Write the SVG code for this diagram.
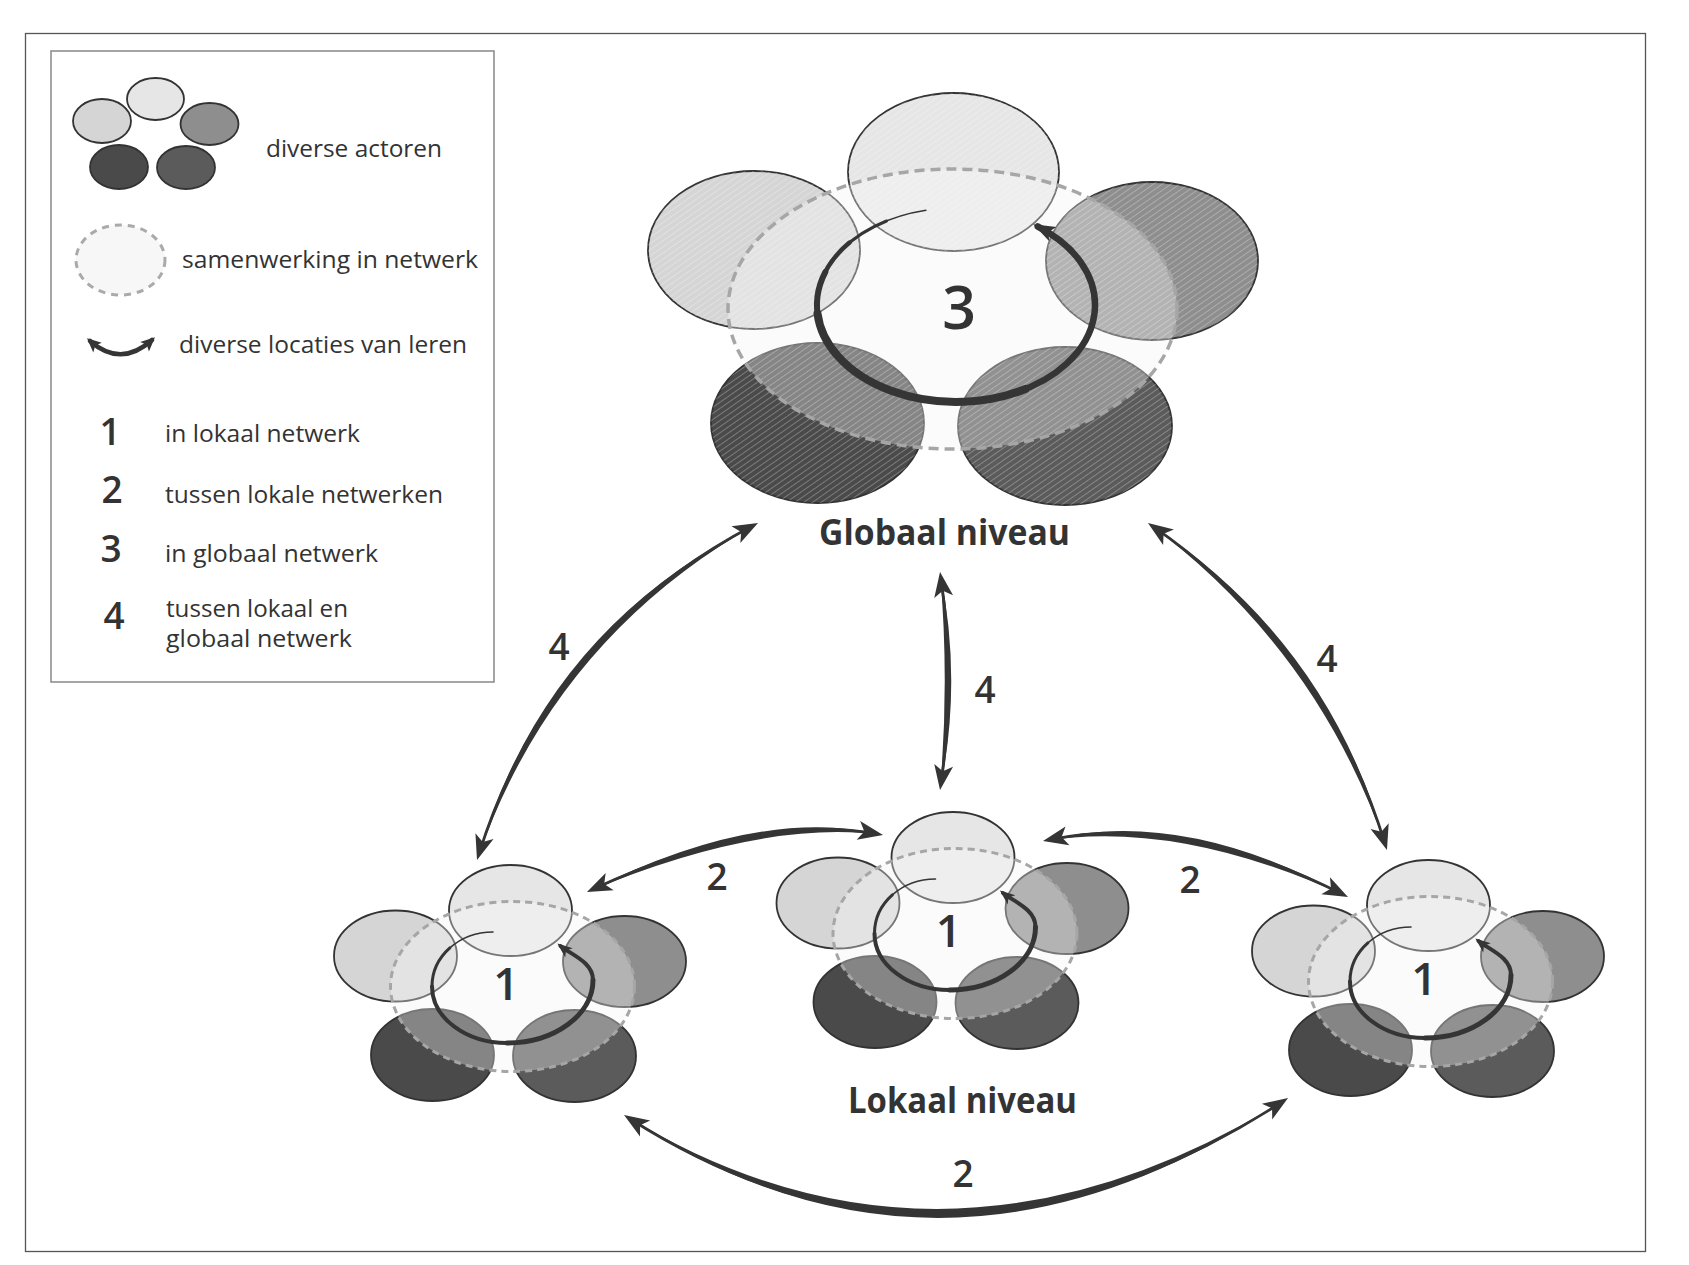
<svg xmlns="http://www.w3.org/2000/svg" width="1689" height="1265" viewBox="0 0 1689 1265">
<style>
.t{font-family:"Open Sans","Noto Sans","Liberation Sans",sans-serif;fill:#333}
.lg{font-size:24px}
.dg{font-size:37px;font-weight:600;text-anchor:middle}
.ttl{font-size:35px;font-weight:700}
.ol{stroke:#333;stroke-width:1.8}
.ln{fill:none;stroke:#353535;stroke-linecap:round}
.cn{fill:none;stroke:#353535;stroke-width:2.8;stroke-linecap:butt}
.tp{fill:#353535;stroke:none}
.dsG{fill:#fff;fill-opacity:0.33;stroke:#a6a6a6;stroke-width:3.5;stroke-dasharray:10 6}
.dsL{fill:#fff;fill-opacity:0.33;stroke:#a6a6a6;stroke-width:3;stroke-dasharray:7 5}
.c1{fill:#e6e6e6}.c2{fill:#d5d5d5}.c3{fill:#8e8e8e}.c4{fill:#4a4a4a}.c5{fill:#5b5b5b}
.h{fill:url(#hatch);opacity:0.35}
</style>
<defs>
<pattern id="hatch" width="5" height="5" patternUnits="userSpaceOnUse" patternTransform="rotate(-35)"><line x1="0" y1="2.5" x2="5" y2="2.5" stroke="#fff" stroke-width="0.8"/></pattern>
<marker id="ah" markerUnits="userSpaceOnUse" viewBox="-22 -11 30 22" markerWidth="30" markerHeight="22" refX="0" refY="0" orient="auto-start-reverse" overflow="visible"><path d="M6,0 L-19,-9.5 L-13,0 L-19,9.5 Z" fill="#353535"/></marker>
<marker id="ahG" markerUnits="userSpaceOnUse" viewBox="-20 -10 26 20" markerWidth="26" markerHeight="20" refX="0" refY="0" orient="auto" overflow="visible"><path d="M5,0 L-17,-8 L-12,0 L-17,8 Z" fill="#353535"/></marker>
<marker id="ahL" markerUnits="userSpaceOnUse" viewBox="-14 -8 20 16" markerWidth="20" markerHeight="16" refX="0" refY="0" orient="auto" overflow="visible"><path d="M4,0 L-11,-6 L-7,0 L-11,6 Z" fill="#353535"/></marker>
<marker id="ahS" markerUnits="userSpaceOnUse" viewBox="-12 -8 18 16" markerWidth="18" markerHeight="16" refX="0" refY="0" orient="auto-start-reverse" overflow="visible"><path d="M4,0 L-10,-6.5 L-7,0 L-10,6.5 Z" fill="#353535"/></marker>
</defs>
<rect width="1689" height="1265" fill="#fff"/>
<rect id="frame" x="25.5" y="33.5" width="1620" height="1218" fill="none" stroke="#555" stroke-width="1.3"/>

<g id="legend">
<rect x="51" y="51" width="443" height="631" fill="#fff" stroke="#888" stroke-width="1.5"/>
<g id="legend-actors">
<ellipse class="c2 ol" cx="102" cy="121" rx="29" ry="22" stroke-width="1.3"/>
<ellipse class="c1 ol" cx="155.5" cy="99" rx="28.5" ry="21" stroke-width="1.3"/>
<ellipse class="c3 ol" cx="209.5" cy="124" rx="29" ry="21" stroke-width="1.3"/>
<ellipse class="c4 ol" cx="119" cy="167" rx="29" ry="22" stroke-width="1.3"/>
<ellipse class="c5 ol" cx="186" cy="167.5" rx="29" ry="21.5" stroke-width="1.3"/>
</g>
<ellipse cx="120.5" cy="260" rx="44.5" ry="35" fill="#f7f7f7" stroke="#aaa" stroke-width="3" stroke-dasharray="7 6"/>
<path d="M90,341 Q121,368 152,340" class="ln" stroke-width="4.5" stroke-linecap="butt" marker-start="url(#ahS)" marker-end="url(#ahS)"/>
<text class="t lg" x="266" y="157" textLength="176" lengthAdjust="spacingAndGlyphs">diverse actoren</text>
<text class="t lg" x="182" y="268" textLength="296" lengthAdjust="spacingAndGlyphs">samenwerking in netwerk</text>
<text class="t lg" x="179" y="353" textLength="288" lengthAdjust="spacingAndGlyphs">diverse locaties van leren</text>
<text class="t dg" x="110" y="445">1</text>
<text class="t dg" x="112" y="503">2</text>
<text class="t dg" x="111" y="562">3</text>
<text class="t dg" x="114" y="629">4</text>
<text class="t lg" x="165" y="442" textLength="195" lengthAdjust="spacingAndGlyphs">in lokaal netwerk</text>
<text class="t lg" x="165" y="503" textLength="278" lengthAdjust="spacingAndGlyphs">tussen lokale netwerken</text>
<text class="t lg" x="165" y="562" textLength="213" lengthAdjust="spacingAndGlyphs">in globaal netwerk</text>
<text class="t lg" x="166" y="617" textLength="182" lengthAdjust="spacingAndGlyphs">tussen lokaal en</text>
<text class="t lg" x="166" y="647" textLength="186" lengthAdjust="spacingAndGlyphs">globaal netwerk</text>
</g>

<g id="global-network">
<ellipse cx="952.5" cy="309" rx="224.5" ry="140" fill="#f9f9f9"/>
<ellipse class="c2 ol" cx="754" cy="250" rx="106" ry="79"/>
<ellipse class="c3 ol" cx="1152" cy="261" rx="106" ry="79"/>
<ellipse class="c4 ol" cx="817.5" cy="423" rx="106.5" ry="80"/>
<ellipse class="c5 ol" cx="1065" cy="426" rx="107" ry="79"/>
<ellipse class="c1 ol" cx="953.5" cy="172" rx="105.5" ry="79"/>
<g class="h">
<ellipse cx="754" cy="250" rx="106" ry="79"/>
<ellipse cx="1152" cy="261" rx="106" ry="79"/>
<ellipse cx="817.5" cy="423" rx="106.5" ry="80"/>
<ellipse cx="1065" cy="426" rx="107" ry="79"/>
<ellipse cx="953.5" cy="172" rx="105.5" ry="79"/>
</g>
<ellipse class="dsG" cx="952.5" cy="309" rx="224.5" ry="140"/>
<g id="loop-3">
<path class="ln" stroke-width="1.5" d="M925.9,210.3 A139,97 0 0 0 876.3,225.5"/>
<path class="ln" stroke-width="3" d="M886.5,221 A139,97 0 0 0 842.1,249.4"/>
<path class="ln" stroke-width="4.5" d="M849.5,242.6 A139,97 0 0 0 821.7,279.9"/>
<path class="ln" stroke-width="6" d="M825.4,271.8 A139,97 0 0 0 819.1,321.8"/>
<path class="ln" stroke-width="8" d="M817.5,313.5 A139,97 0 0 0 1025.5,389"/>
<path class="ln" stroke-width="6.5" stroke-linecap="butt" d="M1014.7,392.9 A139,97 0 0 0 1037.7,226.5" marker-end="url(#ahG)"/>
</g>
<text class="t" x="959" y="329" font-size="59" font-weight="600" text-anchor="middle">3</text>
<text class="t ttl" x="819" y="545" textLength="251" lengthAdjust="spacingAndGlyphs">Globaal niveau</text>
</g>

<g id="local-network-left" transform="translate(512.5,986.5)">
<ellipse rx="122" ry="85" fill="#f9f9f9"/>
<ellipse class="c2 ol" cx="-117" cy="-30.5" rx="61.5" ry="45.5"/>
<ellipse class="c3 ol" cx="112" cy="-25" rx="61.5" ry="45.5"/>
<ellipse class="c4 ol" cx="-80" cy="68.5" rx="61.5" ry="46"/>
<ellipse class="c5 ol" cx="62" cy="69.5" rx="61.5" ry="46"/>
<ellipse class="c1 ol" cx="-2" cy="-76" rx="61.5" ry="45.5"/>
<ellipse class="dsL" rx="122" ry="85"/>
<g class="loop">
<path class="ln" stroke-width="1.6" d="M-19.5,-54.5 C-36.35,-54.5 -51.6,-48.4 -62.64,-38.54"/>
<path class="ln" stroke-width="3" d="M-62.64,-38.54 C-73.675,-28.675 -80.5,-15.05 -80.5,0"/>
<path class="ln" stroke-width="4" d="M-80.5,0 C-80.5,31.2 -46.9,56.5 -5.5,56.5"/>
<path class="ln" stroke-width="5" d="M-5.5,56.5 C42,56.5 80.5,28.3 80.5,-6.5"/>
<path class="ln" stroke-width="4" stroke-linecap="butt" d="M80.5,-6.5 C80.5,-24.5 58.8,-31.7 48,-40.5" marker-end="url(#ahL)"/>
</g>
<text class="t" x="-6.5" y="13.5" font-size="45" font-weight="600" text-anchor="middle">1</text>
</g>

<g id="local-network-center" transform="translate(955,933.5)">
<ellipse rx="122" ry="85" fill="#f9f9f9"/>
<ellipse class="c2 ol" cx="-117" cy="-30.5" rx="61.5" ry="45.5"/>
<ellipse class="c3 ol" cx="112" cy="-25" rx="61.5" ry="45.5"/>
<ellipse class="c4 ol" cx="-80" cy="68.5" rx="61.5" ry="46"/>
<ellipse class="c5 ol" cx="62" cy="69.5" rx="61.5" ry="46"/>
<ellipse class="c1 ol" cx="-2" cy="-76" rx="61.5" ry="45.5"/>
<ellipse class="dsL" rx="122" ry="85"/>
<g class="loop">
<path class="ln" stroke-width="1.6" d="M-19.5,-54.5 C-36.35,-54.5 -51.6,-48.4 -62.64,-38.54"/>
<path class="ln" stroke-width="3" d="M-62.64,-38.54 C-73.675,-28.675 -80.5,-15.05 -80.5,0"/>
<path class="ln" stroke-width="4" d="M-80.5,0 C-80.5,31.2 -46.9,56.5 -5.5,56.5"/>
<path class="ln" stroke-width="5" d="M-5.5,56.5 C42,56.5 80.5,28.3 80.5,-6.5"/>
<path class="ln" stroke-width="4" stroke-linecap="butt" d="M80.5,-6.5 C80.5,-24.5 58.8,-31.7 48,-40.5" marker-end="url(#ahL)"/>
</g>
<text class="t" x="-6.5" y="13.5" font-size="45" font-weight="600" text-anchor="middle">1</text>
</g>

<g id="local-network-right" transform="translate(1430.5,981.5)">
<ellipse rx="122" ry="85" fill="#f9f9f9"/>
<ellipse class="c2 ol" cx="-117" cy="-30.5" rx="61.5" ry="45.5"/>
<ellipse class="c3 ol" cx="112" cy="-25" rx="61.5" ry="45.5"/>
<ellipse class="c4 ol" cx="-80" cy="68.5" rx="61.5" ry="46"/>
<ellipse class="c5 ol" cx="62" cy="69.5" rx="61.5" ry="46"/>
<ellipse class="c1 ol" cx="-2" cy="-76" rx="61.5" ry="45.5"/>
<ellipse class="dsL" rx="122" ry="85"/>
<g class="loop">
<path class="ln" stroke-width="1.6" d="M-19.5,-54.5 C-36.35,-54.5 -51.6,-48.4 -62.64,-38.54"/>
<path class="ln" stroke-width="3" d="M-62.64,-38.54 C-73.675,-28.675 -80.5,-15.05 -80.5,0"/>
<path class="ln" stroke-width="4" d="M-80.5,0 C-80.5,31.2 -46.9,56.5 -5.5,56.5"/>
<path class="ln" stroke-width="5" d="M-5.5,56.5 C42,56.5 80.5,28.3 80.5,-6.5"/>
<path class="ln" stroke-width="4" stroke-linecap="butt" d="M80.5,-6.5 C80.5,-24.5 58.8,-31.7 48,-40.5" marker-end="url(#ahL)"/>
</g>
<text class="t" x="-6.5" y="13.5" font-size="45" font-weight="600" text-anchor="middle">1</text>
</g>

<text id="lokaal-label" class="t ttl" x="848" y="1113" textLength="229" lengthAdjust="spacingAndGlyphs">Lokaal niveau</text>

<g id="connectors">
<g id="c-4-left">
<path class="tp" d="M758,523 Q542.6,629.5 477,860 Q553.4,638.5 758,523 Z"/>
<path class="cn" d="M752.7,525.8 Q548,634 478.8,854.3" marker-start="url(#ah)" marker-end="url(#ah)"/>
<text class="t dg" x="559" y="660">4</text>
</g>
<g id="c-4-middle">
<path class="tp" d="M940,572 Q962.5,681 940,790 Q949.5,681 940,572 Z"/>
<path class="cn" d="M940.9,577.9 Q956,681 940.9,784.1" marker-start="url(#ah)" marker-end="url(#ah)"/>
<text class="t dg" x="985" y="703">4</text>
</g>
<g id="c-4-right">
<path class="tp" d="M1148,523 Q1329.6,640.9 1387,850 Q1318.4,649.1 1148,523 Z"/>
<path class="cn" d="M1152.9,526.4 Q1324,645 1385.2,844.3" marker-start="url(#ah)" marker-end="url(#ah)"/>
<text class="t dg" x="1327" y="672">4</text>
</g>
<g id="c-2-upper-left">
<path class="tp" d="M587,892 Q758.7,805.1 883,835 Q761.3,818.9 587,892 Z"/>
<path class="cn" d="M592.4,889.5 Q760,812 877.1,833.9" marker-start="url(#ah)" marker-end="url(#ah)"/>
<text class="t dg" x="717" y="890">2</text>
</g>
<g id="c-2-upper-right">
<path class="tp" d="M1043,841 Q1181.3,805.1 1348,897 Q1178.7,818.9 1043,841 Z"/>
<path class="cn" d="M1048.9,839.8 Q1180,812 1342.6,894.3" marker-start="url(#ah)" marker-end="url(#ah)"/>
<text class="t dg" x="1190" y="893">2</text>
</g>
<g id="c-2-bottom">
<path class="tp" d="M624,1115 Q945.2,1329 1288,1098 Q944.8,1311 624,1115 Z"/>
<path class="cn" d="M629.1,1118.2 Q945,1320 1283,1101.3" marker-start="url(#ah)" marker-end="url(#ah)"/>
<text class="t dg" x="963" y="1187">2</text>
</g>
</g>
</svg>
